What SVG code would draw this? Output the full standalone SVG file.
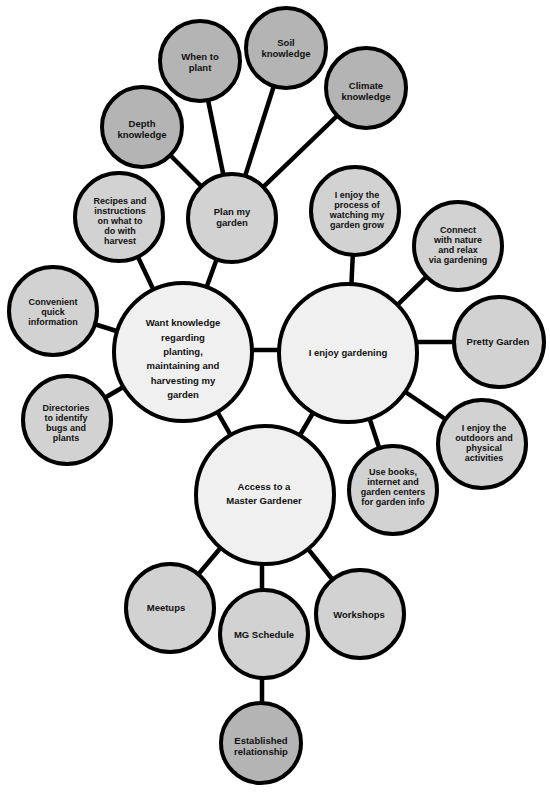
<svg xmlns="http://www.w3.org/2000/svg" width="550" height="793" viewBox="0 0 550 793">
<style>
  .n circle { stroke: #000; stroke-width: 4; }
  .hub circle { fill: #f0f0f0; }
  .mid circle { fill: #d2d2d2; }
  .dk circle { fill: #b4b4b4; }
  text { font-family: "Liberation Sans", Arial, sans-serif; font-weight: bold; font-size: 9.5px; fill: #111; text-anchor: middle; }
  .sm text { font-size: 9px; }
  #connectors line { stroke: #000; stroke-width: 4.5; }
</style>
<rect width="550" height="793" fill="#fff"/>
<g id="connectors">
  <line x1="232" y1="217" x2="200" y2="61"/>
  <line x1="232" y1="217" x2="286" y2="48"/>
  <line x1="232" y1="217" x2="366" y2="88"/>
  <line x1="232" y1="217" x2="142" y2="127"/>
  <line x1="183" y1="352" x2="232" y2="217"/>
  <line x1="183" y1="352" x2="119" y2="217"/>
  <line x1="183" y1="352" x2="53" y2="311"/>
  <line x1="183" y1="352" x2="67" y2="420"/>
  <line x1="183" y1="350" x2="348" y2="350"/>
  <line x1="183" y1="352" x2="265" y2="495"/>
  <line x1="348" y1="353" x2="355" y2="211"/>
  <line x1="348" y1="353" x2="458" y2="246"/>
  <line x1="348" y1="342" x2="499" y2="342"/>
  <line x1="348" y1="353" x2="482" y2="444"/>
  <line x1="348" y1="353" x2="393" y2="490"/>
  <line x1="348" y1="353" x2="265" y2="495"/>
  <line x1="265" y1="495" x2="170" y2="608"/>
  <line x1="262" y1="495" x2="262" y2="634"/>
  <line x1="265" y1="495" x2="360" y2="614"/>
  <line x1="262" y1="634" x2="262" y2="743"/>
</g>
<g id="when" class="n dk"><circle cx="200" cy="61" r="40"/><text x="200" y="60">When to</text><text x="200" y="71">plant</text></g>
<g id="soil" class="n dk"><circle cx="286" cy="48" r="40"/><text x="286" y="46">Soil</text><text x="286" y="57">knowledge</text></g>
<g id="climate" class="n dk"><circle cx="366" cy="88" r="40"/><text x="366" y="89">Climate</text><text x="366" y="100">knowledge</text></g>
<g id="depth" class="n dk"><circle cx="142" cy="127" r="40"/><text x="142" y="127">Depth</text><text x="142" y="138">knowledge</text></g>
<g id="plan" class="n mid"><circle cx="232" cy="218" r="44"/><text x="232" y="215">Plan my</text><text x="232" y="226">garden</text></g>
<g id="process" class="n mid sm"><circle cx="355" cy="211" r="44"/><text x="357" y="197.5">I enjoy the</text><text x="357" y="207.5">process of</text><text x="357" y="217.5">watching my</text><text x="357" y="227.5">garden grow</text></g>
<g id="recipes" class="n mid sm"><circle cx="119" cy="217" r="44"/><text x="120" y="203.5">Recipes and</text><text x="120" y="213.5">instructions</text><text x="120" y="223.5">on what to</text><text x="120" y="233.5">do with</text><text x="120" y="243.5">harvest</text></g>
<g id="convenient" class="n mid sm"><circle cx="53" cy="311" r="44"/><text x="53" y="305">Convenient</text><text x="53" y="315">quick</text><text x="53" y="325">information</text></g>
<g id="directories" class="n mid sm"><circle cx="67" cy="420" r="44"/><text x="66" y="411">Directories</text><text x="66" y="421">to identify</text><text x="66" y="431">bugs and</text><text x="66" y="441">plants</text></g>
<g id="want" class="n hub"><circle cx="183" cy="352" r="69"/><text x="183" y="326">Want knowledge</text><text x="183" y="341">regarding</text><text x="183" y="355">planting,</text><text x="183" y="369">maintaining and</text><text x="183" y="384">harvesting my</text><text x="183" y="398">garden</text></g>
<g id="enjoy" class="n hub"><circle cx="348" cy="353" r="69"/><text x="348" y="356">I enjoy gardening</text></g>
<g id="connect" class="n mid sm"><circle cx="458" cy="246" r="44"/><text x="458" y="233">Connect</text><text x="458" y="243">with nature</text><text x="458" y="253">and relax</text><text x="458" y="263">via gardening</text></g>
<g id="pretty" class="n mid"><circle cx="499" cy="342" r="45"/><text x="498" y="345">Pretty Garden</text></g>
<g id="outdoors" class="n mid sm"><circle cx="482" cy="444" r="44"/><text x="484" y="431">I enjoy the</text><text x="484" y="441">outdoors and</text><text x="484" y="451">physical</text><text x="484" y="461">activities</text></g>
<g id="books" class="n mid sm"><circle cx="393" cy="490" r="44"/><text x="393" y="475">Use books,</text><text x="393" y="485">internet and</text><text x="393" y="495">garden centers</text><text x="393" y="505">for garden info</text></g>
<g id="access" class="n hub"><circle cx="265" cy="495" r="69"/><text x="264" y="490">Access to a</text><text x="264" y="504">Master Gardener</text></g>
<g id="meetups" class="n mid"><circle cx="170" cy="608" r="44"/><text x="166" y="611">Meetups</text></g>
<g id="schedule" class="n mid"><circle cx="264" cy="634" r="44"/><text x="264" y="638">MG Schedule</text></g>
<g id="workshops" class="n mid"><circle cx="360" cy="614" r="44"/><text x="359" y="618">Workshops</text></g>
<g id="established" class="n dk"><circle cx="261" cy="743" r="40"/><text x="261" y="744">Established</text><text x="261" y="755">relationship</text></g>
</svg>
